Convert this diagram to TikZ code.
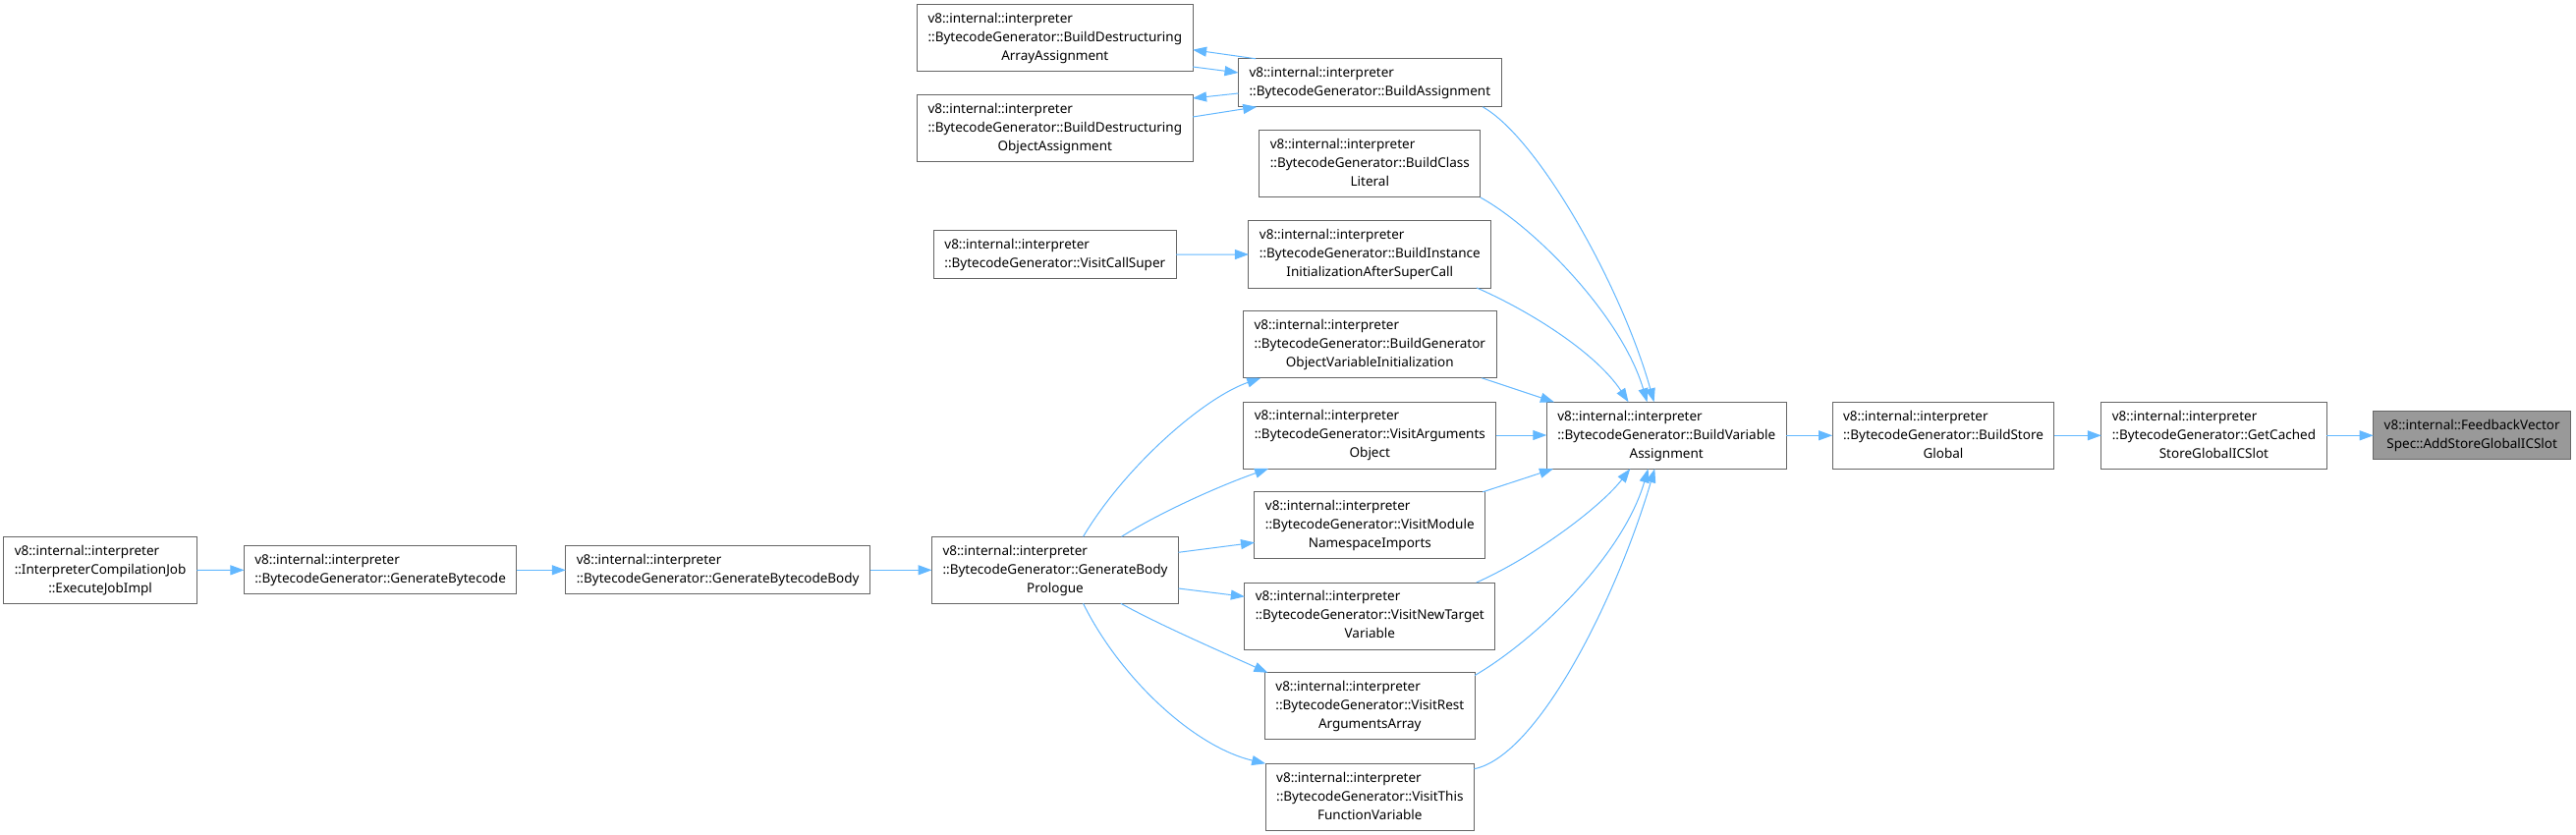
\documentclass[tikz,border=0pt]{standalone}
\usepackage{fontspec}
\setmainfont{Noto Sans}
\usetikzlibrary{arrows.meta,calc}
\definecolor{edgeblue}{HTML}{63B8FF}
\definecolor{boxborder}{HTML}{666666}
\definecolor{focusfill}{HTML}{999999}
\newcommand{\labthree}[3]{\begin{tabular}{@{}l@{}}#1\\#2\\\multicolumn{1}{@{}c@{}}{#3}\end{tabular}}
\newcommand{\labtwo}[2]{\begin{tabular}{@{}l@{}}#1\\#2\end{tabular}}
\newcommand{\labcent}[2]{\begin{tabular}{@{}c@{}}#1\\#2\end{tabular}}
\newcommand{\myvi}{v8::internal::interpreter}
\newcommand{\mybg}{::BytecodeGenerator::}
\begin{document}
\begin{tikzpicture}[x=1pt,y=-1pt,
  fn/.style={draw=boxborder, fill=white, line width=1pt, inner xsep=11pt, inner ysep=5.5pt, outer sep=0pt,
    font=\fontsize{13.5}{19}\selectfont},
  focus/.style={fn, fill=focusfill},
  edge/.style={draw=edgeblue, line width=1pt, -{Triangle[length=14pt,width=10pt]}}]
\useasboundingbox[fill=white] (0,0) rectangle (2622,850);

% left chain
\node[fn] (EJI) at (102.1,580.5) {\labthree{\myvi}{::InterpreterCompilationJob}{::ExecuteJobImpl}};
\node[fn] (GB) at (387.1,580.3) {\labtwo{\myvi}{\mybg GenerateBytecode}};
\node[fn] (GBB) at (730.7,580.3) {\labtwo{\myvi}{\mybg GenerateBytecodeBody}};
\node[fn] (GBP) at (1074,580.3) {\labthree{\myvi}{\mybg GenerateBody}{Prologue}};

% left column top
\node[fn] (ArrDA) at (1073.8,38.8) {\labthree{\myvi}{\mybg BuildDestructuring}{ArrayAssignment}};
\node[fn] (ObjDA) at (1073.8,131) {\labthree{\myvi}{\mybg BuildDestructuring}{ObjectAssignment}};
\node[fn] (VCS) at (1073.8,259.2) {\labtwo{\myvi}{\mybg VisitCallSuper}};

% middle column
\node[fn] (BA) at (1394.3,84.3) {\labtwo{\myvi}{\mybg BuildAssignment}};
\node[fn] (BCL) at (1394.3,167) {\labthree{\myvi}{\mybg BuildClass}{Literal}};
\node[fn] (BII) at (1394.3,259) {\labthree{\myvi}{\mybg BuildInstance}{InitializationAfterSuperCall}};
\node[fn] (BGO) at (1394.3,350.8) {\labthree{\myvi}{\mybg BuildGenerator}{ObjectVariableInitialization}};
\node[fn] (VAO) at (1394.3,443) {\labthree{\myvi}{\mybg VisitArguments}{Object}};
\node[fn] (VMN) at (1394.3,534.8) {\labthree{\myvi}{\mybg VisitModule}{NamespaceImports}};
\node[fn] (VNT) at (1394.3,627) {\labthree{\myvi}{\mybg VisitNewTarget}{Variable}};
\node[fn] (VRA) at (1394.3,718.8) {\labthree{\myvi}{\mybg VisitRest}{ArgumentsArray}};
\node[fn] (VTF) at (1394.3,811.3) {\labthree{\myvi}{\mybg VisitThis}{FunctionVariable}};

% right chain
\node[fn] (BVA) at (1696.2,443.3) {\labthree{\myvi}{\mybg BuildVariable}{Assignment}};
\node[fn] (BSG) at (1978,443.3) {\labthree{\myvi}{\mybg BuildStore}{Global}};
\node[fn] (GC) at (2253.4,443.3) {\labthree{\myvi}{\mybg GetCached}{StoreGlobalICSlot}};
\node[focus] (ASG) at (2516.2,443.3) {\labcent{v8::internal::FeedbackVector}{Spec::AddStoreGlobalICSlot}};

% straight chain edges
\draw[edge] (EJI.east) -- (GB.west);
\draw[edge] (GB.east) -- (GBB.west);
\draw[edge] (GBB.east) -- (GBP.west);
\draw[edge] (BVA.east) -- (BSG.west);
\draw[edge] (BSG.east) -- (GC.west);
\draw[edge] (GC.east) -- (ASG.west);
\draw[edge] (VCS.east) -- (BII.west);

% BuildAssignment <-> destructuring
\draw[edge] ([xshift=17.7pt]BA.north west) -- ([yshift=-11.9pt]ArrDA.east);
\draw[edge] ([yshift=-29.2pt]ArrDA.east) -- ([yshift=10.3pt]BA.west);
\draw[edge] ([yshift=-10.7pt]BA.west) -- ([yshift=31pt]ObjDA.east);
\draw[edge] ([yshift=12pt]ObjDA.east) -- ([xshift=18.7pt]BA.south west);

% GenerateBodyPrologue fan-out
\draw[edge] ([xshift=154pt]GBP.north west) .. controls (1145,475) and (1225,405) .. ([xshift=17.6pt]BGO.south west);
\draw[edge] ([xshift=193pt]GBP.north west) .. controls (1180,522) and (1240,495) .. ([xshift=25.4pt]VAO.south west);
\draw[edge] ([yshift=18pt]GBP.east) -- ([yshift=-17.5pt]VMN.west);
\draw[edge] ([yshift=-18.7pt]GBP.east) -- ([yshift=19.7pt]VNT.west);
\draw[edge] ([xshift=192.3pt]GBP.south west) .. controls (1180,636) and (1240,662) .. ([xshift=3pt]VRA.north west);
\draw[edge] ([xshift=154pt]GBP.south west) .. controls (1140,690) and (1215,760) .. (VTF.north west);

% fan-in to BuildVariableAssignment
\draw[edge] ([xshift=-19pt]BA.south east) .. controls (1565,140) and (1650,290) .. ([xshift=109.3pt]BVA.north west);
\draw[edge] (BCL.south east) .. controls (1560,230) and (1650,320) .. ([xshift=102.3pt]BVA.north west);
\draw[edge] ([xshift=-14.6pt]BII.south east) .. controls (1560,318) and (1625,360) .. ([xshift=83.3pt]BVA.north west);
\draw[edge] ([xshift=-14.7pt]BGO.south east) -- ([xshift=7.7pt]BVA.north west);
\draw[edge] (VAO.east) -- (VAO.east -| BVA.west);
\draw[edge] ([xshift=-2.4pt]VMN.north east) -- ([xshift=6.7pt]BVA.south west);
\draw[edge] ([xshift=-19pt]VNT.north east) .. controls (1565,565) and (1630,515) .. ([xshift=85pt]BVA.south west);
\draw[edge] ([yshift=-2.7pt]VRA.north east) .. controls (1565,650) and (1652,565) .. ([xshift=103.3pt]BVA.south west);
\draw[edge] ([yshift=-5.4pt]VTF.north east) .. controls (1565,770) and (1645,610) .. ([xshift=110pt]BVA.south west);
\end{tikzpicture}
\end{document}
